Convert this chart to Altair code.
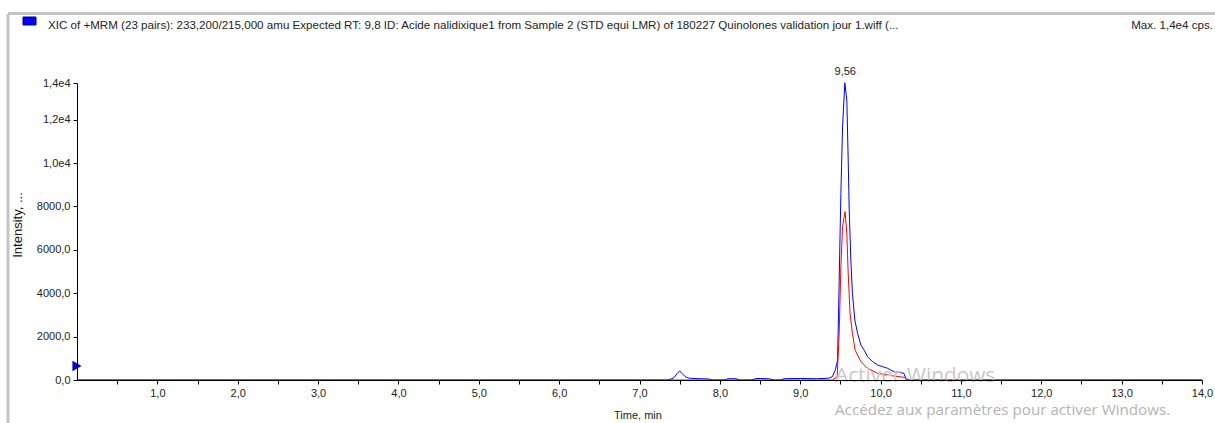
import altair as alt
import pandas as pd

# ---- data ----
blue_t = [0.0, 7.35, 7.42, 7.47, 7.50, 7.53, 7.57, 7.62, 7.75, 7.85, 7.92, 8.05, 8.10, 8.20, 8.25,
          8.40, 8.45, 8.60, 8.68, 8.75, 8.80, 9.00, 9.20, 9.35, 9.40, 9.44, 9.465, 9.485, 9.506,
          9.527, 9.555, 9.58, 9.597, 9.61, 9.63, 9.65, 9.68, 9.714, 9.755, 9.80, 9.838, 9.90, 9.963,
          10.02, 10.087, 10.13, 10.17, 10.23, 10.29, 10.32, 10.35, 14.0]
blue_i = [0, 0, 80, 300, 420, 300, 150, 80, 60, 50, 0, 0, 60, 60, 0,
          0, 70, 60, 0, 0, 60, 70, 60, 80, 150, 500, 920, 4600, 8600,
          11670, 13700, 12900, 10140, 7830, 5530, 3990, 2760, 2150, 1610, 1350, 1070, 850, 690,
          620, 540, 450, 380, 350, 310, 30, 0, 0]

red_t = [0.0, 9.40, 9.46, 9.485, 9.506, 9.527, 9.558, 9.58, 9.597, 9.62, 9.65, 9.683, 9.755,
         9.838, 9.963, 10.087, 10.17, 10.30, 10.33, 14.0]
red_i = [0, 0, 150, 2150, 5220, 7070, 7760, 6760, 4920, 3070, 2150, 1380, 850,
         540, 310, 230, 180, 120, 0, 0]

peak_t = [9.56]
peak_i = [13700]
peak_label = ["9,56"]

marker_t = [0.0]
marker_i = [650]

x_major = [1, 2, 3, 4, 5, 6, 7, 8, 9, 10, 11, 12, 13, 14]
x_minor = [0.5, 1.5, 2.5, 3.5, 4.5, 5.5, 6.5, 7.5, 8.5, 9.5, 10.5, 11.5, 12.5, 13.5]
y_major = [0, 2000, 4000, 6000, 8000, 10000, 12000]
y_minor = [1000, 3000, 5000, 7000, 9000, 11000, 13000]
y_max = 13690

title_text = ("XIC of +MRM (23 pairs): 233,200/215,000 amu Expected RT: 9,8 ID: Acide nalidixique1 "
              "from Sample 2 (STD equi LMR) of 180227 Quinolones validation jour 1.wiff (...")
max_text = "Max. 1,4e4 cps."
y_title = "Intensity, ..."
x_title = "Time, min"
wm1 = "Activer Windows"
wm2 = "Accédez aux paramètres pour activer Windows."

W, H = 1125, 297
FONT = "Liberation Sans"

blue_df = pd.DataFrame({"t": blue_t, "i": blue_i})
red_df = pd.DataFrame({"t": red_t, "i": red_i})
peak_df = pd.DataFrame({"t": peak_t, "i": peak_i, "lab": peak_label})
marker_df = pd.DataFrame({"t": marker_t, "i": marker_i})
one = pd.DataFrame({"a": [0]})

x_label_expr = "datum.value % 1 != 0 ? '' : replace(format(datum.value, '.1f'), '.', ',')"
y_label_expr = (f"datum.value == {y_max} ? '1,4e4' : (datum.value % 2000 != 0 ? '' : "
                "(datum.value >= 10000 ? replace(format(datum.value / 10000, '.1f'), '.', ',') + 'e4' : "
                "replace(format(datum.value, '.1f'), '.', ',')))")

xscale = alt.Scale(domain=[0, 14], nice=False, zero=False)
yscale = alt.Scale(domain=[0, y_max], nice=False)

xaxis = alt.Axis(values=sorted(x_major + x_minor), labelExpr=x_label_expr, title=None, grid=False,
                 tickSize=4, labelFont=FONT, labelFontSize=11, labelColor="#222", labelPadding=3,
                 domainColor="black", tickColor="black", labelFlush=False, labelOverlap=False, zindex=1)
yaxis = alt.Axis(values=sorted(y_major + y_minor + [y_max]), labelExpr=y_label_expr, title=None, grid=False,
                 tickSize=4, labelFont=FONT, labelFontSize=11, labelColor="#222", labelPadding=3,
                 domainColor="black", tickColor="black", labelOverlap=False, zindex=1)

blue = alt.Chart(blue_df).mark_line(color="#0000ff", strokeWidth=1, interpolate="linear").encode(
    x=alt.X("t:Q", scale=xscale, axis=xaxis),
    y=alt.Y("i:Q", scale=yscale, axis=yaxis),
)
red = alt.Chart(red_df).mark_line(color="#ff0000", strokeWidth=1).encode(
    x=alt.X("t:Q", scale=xscale), y=alt.Y("i:Q", scale=yscale)
)
peak = alt.Chart(peak_df).mark_text(font=FONT, fontSize=11, color="#222", dy=-11, baseline="middle").encode(
    x=alt.X("t:Q", scale=xscale), y=alt.Y("i:Q", scale=yscale), text="lab:N"
)
marker = alt.Chart(marker_df).mark_point(shape="triangle-right", filled=True, color="#0000cc",
                                         size=110, opacity=1).encode(
    x=alt.X("t:Q", scale=xscale), y=alt.Y("i:Q", scale=yscale)
)

base = alt.Chart(one)
frame_top = base.mark_rule(color="#c4c4c4", strokeWidth=3).encode(
    x=alt.value(-69), x2=alt.value(1138), y=alt.value(-69.5))
frame_left = base.mark_rule(color="#c4c4c4", strokeWidth=3).encode(
    x=alt.value(-69), y=alt.value(-69), y2=alt.value(340))
square = base.mark_rect(color="#0000ff", stroke="#000080", strokeWidth=1).encode(
    x=alt.value(-54), x2=alt.value(-41), y=alt.value(-66), y2=alt.value(-58))

def txt(s, x, y, size, align="left", angle=0, color="#222", font=FONT):
    return base.mark_text(text=s, font=font, fontSize=size, align=align, baseline="middle",
                          angle=angle, color=color).encode(x=alt.value(x), y=alt.value(y))

t_title = txt(title_text, -29, -57, 11.6)
t_max = txt(max_text, 1136, -57, 11.6, align="right")
t_ytitle = txt(y_title, -59, 142, 13, align="center", angle=270, color="#111")
t_xtitle = txt(x_title, 561, 333, 11, align="center")
t_wm1 = txt(wm1, 758, 293, 20.8, color="#c8c8c8", font="Open Sans")
t_wm2 = txt(wm2, 758, 327, 15.2, color="#b4b4b4", font="Open Sans")

chart = alt.layer(
    frame_top, frame_left, square, t_title, t_max, t_ytitle, t_xtitle,
    blue, red, peak, marker, t_wm1, t_wm2
).properties(
    width=W, height=H,
    autosize=alt.AutoSizeParams(type="none"),
    padding={"left": 77, "top": 83, "right": 13, "bottom": 43},
    background="white",
).configure_view(stroke=None)

chart.save("out.html", embed_options={"renderer": "svg", "actions": False})
